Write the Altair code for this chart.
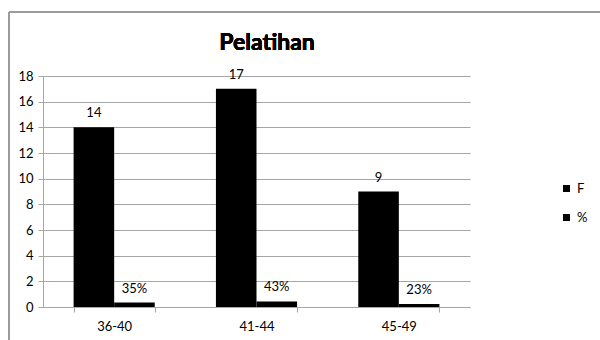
import altair as alt
import pandas as pd

# Age groups and the two series drawn for each
categories = ["36-40", "41-44", "45-49"]
series = ["F", "%"]
freq = [14, 17, 9]
share = [0.35, 0.43, 0.23]

rows = []
for cat, f, p in zip(categories, freq, share):
    rows.append({"kelompok": cat, "seri": "F", "nilai": f, "label": f"{f:g}"})
    rows.append({"kelompok": cat, "seri": "%", "nilai": p, "label": f"{round(p * 100)}%"})
df = pd.DataFrame(rows)

FONT = "Lato"
GRID = "#a6a6a6"

x_enc = alt.X(
    "kelompok:N",
    sort=categories,
    title=None,
    scale=alt.Scale(paddingInner=0.43, paddingOuter=0.215),
    axis=alt.Axis(
        labelAngle=0,
        tickBand="extent",
        tickSize=5,
        tickColor=GRID,
        domainColor=GRID,
        labelPadding=8,
        labelFontSize=13,
        labelColor="#000000",
        labelFont=FONT,
        grid=False,
    ),
)
y_enc = alt.Y(
    "nilai:Q",
    title=None,
    scale=alt.Scale(domain=[0, 18], nice=False),
    axis=alt.Axis(
        values=list(range(0, 19, 2)),
        tickSize=5,
        tickColor=GRID,
        domainColor=GRID,
        gridColor=GRID,
        labelPadding=5,
        labelFontSize=13,
        labelColor="#000000",
        labelFont=FONT,
        labelOverlap=False,
        labelBound=False,
        labelFlush=False,
    ),
)
offset = alt.XOffset("seri:N", sort=series, scale=alt.Scale(domain=series))

base = alt.Chart(df).encode(x=x_enc, y=y_enc, xOffset=offset)

bars = base.mark_bar(color="black").encode(
    color=alt.Color(
        "seri:N",
        scale=alt.Scale(domain=series, range=["black", "black"]),
        legend=alt.Legend(
            title=None,
            orient="none",
            legendX=517,
            legendY=106,
            symbolType="square",
            symbolSize=49,
            symbolStrokeWidth=0,
            labelFontSize=13,
            labelFont=FONT,
            labelColor="#000000",
            rowPadding=15,
            labelOffset=4,
        ),
    ),
)

labels = base.mark_text(
    dy=-14, fontSize=13, font=FONT, color="#000000"
).encode(text="label:N")

title = alt.Chart(df).mark_text(
    fontSize=23, fontWeight="bold", font=FONT, color="#000000", baseline="alphabetic"
).encode(
    x=alt.value(224),
    y=alt.value(-26),
    text=alt.value("Pelatihan"),
)

# Outer chart frame
frame = alt.Chart(df).mark_rect(
    fill=None, stroke="#9a9a9a", strokeWidth=1
).encode(
    x=alt.value(-34), x2=alt.value(700),
    y=alt.value(-64), y2=alt.value(400),
)

chart = (
    alt.layer(frame, bars, labels, title)
    .properties(
        width=427,
        height=231,
        padding={"left": 43, "top": 76, "right": 130, "bottom": 33},
        autosize=alt.AutoSizeParams(type="none"),
        background="white",
    )
    .configure_view(stroke=None)
)

chart.save("out.html", embed_options={"renderer": "svg", "actions": False})
